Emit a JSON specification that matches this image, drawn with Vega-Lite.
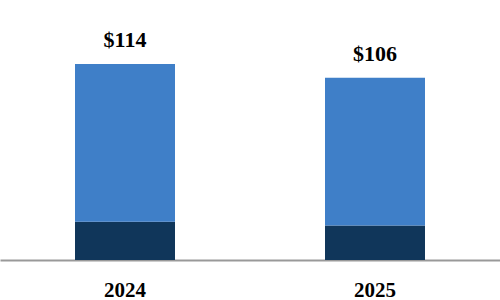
{
  "$schema": "https://vega.github.io/schema/vega-lite/v6.json",
  "width": 500,
  "height": 260,
  "padding": 0,
  "background": "white",
  "config": {"view": {"stroke": null}},
  "data": {
    "values": [
      {"year": "2024", "part": "base", "value": 22.3},
      {"year": "2024", "part": "top", "value": 91.7},
      {"year": "2025", "part": "base", "value": 20.0},
      {"year": "2025", "part": "top", "value": 86.0}
    ]
  },
  "encoding": {
    "x": {
      "field": "year",
      "type": "nominal",
      "scale": {"paddingInner": 0.6, "paddingOuter": 0.3},
      "axis": {
        "title": null,
        "labelAngle": 0,
        "ticks": false,
        "tickSize": 0,
        "labelPadding": 36,
        "labelBaseline": "alphabetic",
        "labelFont": "Liberation Serif",
        "labelFontWeight": "bold",
        "labelFontSize": 21,
        "labelColor": "black",
        "domainColor": "#999999",
        "domainWidth": 2,
        "grid": false
      }
    }
  },
  "layer": [
    {
      "mark": {"type": "bar"},
      "encoding": {
        "y": {
          "field": "value",
          "type": "quantitative",
          "stack": "zero",
          "scale": {"domain": [0, 151.2], "nice": false},
          "axis": null
        },
        "color": {
          "field": "part",
          "type": "nominal",
          "scale": {"domain": ["base", "top"], "range": ["#10365A", "#3F7FC8"]},
          "legend": null
        },
        "order": {"field": "part", "sort": "ascending"}
      }
    },
    {
      "transform": [
        {"aggregate": [{"op": "sum", "field": "value", "as": "total"}], "groupby": ["year"]}
      ],
      "mark": {
        "type": "text",
        "font": "Liberation Serif",
        "fontWeight": "bold",
        "fontSize": 22,
        "baseline": "alphabetic",
        "dy": -17,
        "color": "black"
      },
      "encoding": {
        "y": {"field": "total", "type": "quantitative"},
        "text": {"field": "total", "type": "quantitative", "format": "$,.0f"}
      }
    }
  ]
}
